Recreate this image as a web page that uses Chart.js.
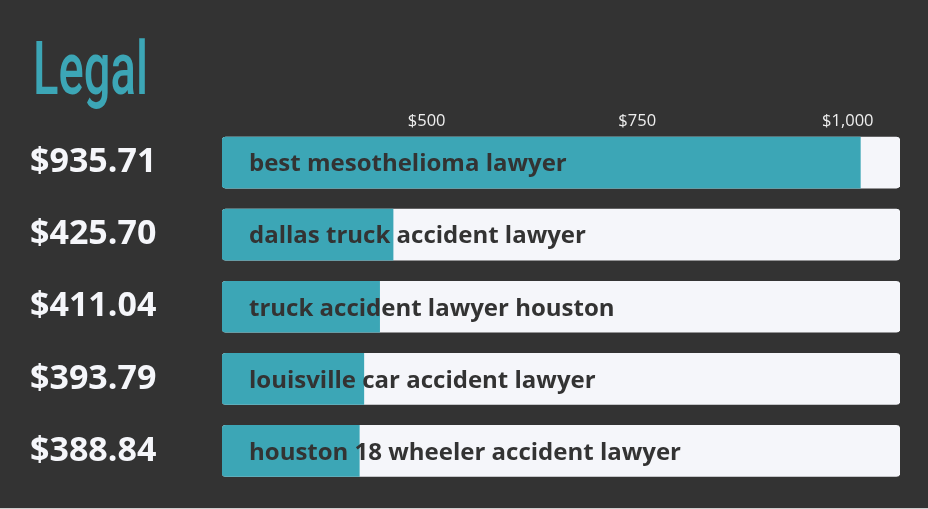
<!DOCTYPE html>
<html>
<head>
<meta charset="utf-8">
<script src="https://cdn.jsdelivr.net/npm/chart.js@4.4.1/dist/chart.umd.min.js"></script>
<style>
  html, body { margin: 0; padding: 0; background: #cfcfcf; }
  #wrap { width: 928px; height: 508px; background: #333333; position: relative; }
  canvas { display: block; }
</style>
</head>
<body>
<div id="wrap"><canvas id="c" width="928" height="508"></canvas></div>
<script>
const chartTitle = "Legal";
const categories = [
  "best mesothelioma lawyer",
  "dallas truck accident lawyer",
  "truck accident lawyer houston",
  "louisville car accident lawyer",
  "houston 18 wheeler accident lawyer"
];
const values = [935.71, 425.70, 411.04, 393.79, 388.84];
const valueLabels = ["$935.71", "$425.70", "$411.04", "$393.79", "$388.84"];
const tickValues = [500, 750, 1000];
const tickLabels = ["$500", "$750", "$1,000"];

const barMin = 239, barMax = 979;      // range of the bar scale
const tickMin = 257, tickMax = 1062;   // range of the printed top axis
const trackValues = categories.map(() => barMax);

const TEAL = "#3ca6b6";
const TRACK = "#f5f6fa";
const DARK = "#333333";

const titlePlugin = {
  id: "bigTitle",
  afterDraw(chart) {
    const ctx = chart.ctx;
    ctx.save();
    ctx.font = "500 75px Roboto";
    const w = ctx.measureText(chartTitle).width;
    const sx = 115 / w;
    ctx.translate(33, 94);
    ctx.scale(sx, 1);
    ctx.fillStyle = TEAL;
    ctx.textBaseline = "alphabetic";
    ctx.fillText(chartTitle, 0, 0);
    ctx.restore();
  }
};

const barTextPlugin = {
  id: "barText",
  afterDatasetsDraw(chart) {
    const ctx = chart.ctx;
    const meta = chart.getDatasetMeta(1);
    ctx.save();
    ctx.font = "bold 24px 'Open Sans'";
    ctx.fillStyle = DARK;
    ctx.textBaseline = "middle";
    ctx.textAlign = "left";
    meta.data.forEach((el, i) => {
      ctx.fillText(categories[i], chart.chartArea.left + 27, el.y + 2);
    });
    ctx.restore();
  }
};

new Chart(document.getElementById("c"), {
  type: "bar",
  data: {
    labels: valueLabels,
    datasets: [
      {
        label: "track",
        data: trackValues,
        backgroundColor: TRACK,
        borderRadius: 4,
        borderSkipped: false,
        base: barMin,
        grouped: false,
        barThickness: 51,
        order: 2,
        xAxisID: "x"
      },
      {
        label: "CPC",
        data: values,
        backgroundColor: TEAL,
        borderRadius: { topLeft: 4, bottomLeft: 4, topRight: 0, bottomRight: 0 },
        borderSkipped: false,
        base: barMin,
        grouped: false,
        barThickness: 51,
        order: 1,
        xAxisID: "x"
      }
    ]
  },
  options: {
    indexAxis: "y",
    responsive: false,
    animation: false,
    devicePixelRatio: 1,
    layout: { padding: { left: 30, right: 28, top: 110.5, bottom: 21 } },
    plugins: {
      legend: { display: false },
      tooltip: { enabled: false },
      title: { display: false }
    },
    scales: {
      x: {
        type: "linear",
        position: "bottom",
        min: barMin,
        max: barMax,
        display: false
      },
      x2: {
        type: "linear",
        position: "top",
        min: tickMin,
        max: tickMax,
        grid: { display: false, drawTicks: false },
        border: { display: false },
        afterBuildTicks(scale) {
          scale.ticks = tickValues.map(v => ({ value: v }));
        },
        afterFit(scale) { scale.height = 16; },
        ticks: {
          autoSkip: false,
          maxRotation: 0,
          mirror: true,
          padding: -15,
          color: "#eeeeee",
          font: { family: "'Open Sans'", size: 16.5 },
          callback(v) {
            const i = tickValues.indexOf(v);
            return i >= 0 ? tickLabels[i] : "";
          }
        }
      },
      y: {
        type: "category",
        position: "left",
        grid: { display: false, drawTicks: false },
        border: { display: false },
        afterFit(scale) { scale.width = 192; },
        ticks: {
          crossAlign: "far",
          padding: 0,
          color: "#f5f6fa",
          font: { family: "'Open Sans'", size: 34, weight: "bold" }
        }
      }
    }
  },
  plugins: [titlePlugin, barTextPlugin]
});
</script>
</body>
</html>
